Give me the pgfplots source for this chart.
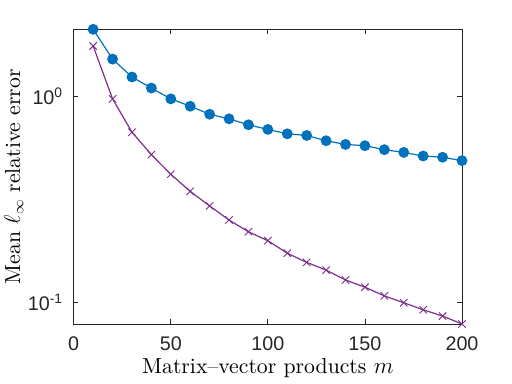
\documentclass[border=0pt]{standalone}
\usepackage{fontspec}
\usepackage{pgfplots}
\pgfplotsset{compat=1.18}
\newfontfamily\tickfont{Liberation Sans}
\newfontfamily\labfont{lmroman10-regular.otf}
\definecolor{mblue}{rgb}{0,0.447,0.741}
\definecolor{mpurple}{rgb}{0.494,0.184,0.556}
\definecolor{axgray}{rgb}{0.15,0.15,0.15}
\begin{document}
\begin{tikzpicture}
  \useasboundingbox (0,0) rectangle (384pt,288pt);
  \begin{axis}[
    at={(55.3pt,45pt)},anchor=south west,
    scale only axis,width=291.2pt,height=221pt,
    ymode=log,
    xmin=0,xmax=200,ymin=0.0789,ymax=2.12,
    xtick={0,50,100,150,200},
    xticklabels={0,50,100,150,200},
    ytick={0.1,1},
    yticklabels={10\textsuperscript{-1},10\textsuperscript{0}},
    yminorticks=false,
    tick align=inside,tick pos=both,
    major tick length=3.5pt,
    axis line style={axgray,line width=0.6pt},
    every tick/.style={axgray,line width=0.6pt},
    tick label style={font=\fontsize{14.8}{16}\tickfont,text=axgray,inner sep=1pt},
    xticklabel style={anchor=center,yshift=-15pt},
    yticklabel style={anchor=east,xshift=-7pt},
    clip=false,
    every axis x label/.style={at={([yshift=-33pt]axis description cs:0.5,0)},anchor=center},
    every axis y label/.style={at={([xshift=-45pt]axis description cs:0,0.5)},rotate=90,anchor=center},
    label style={font=\fontsize{16.3}{18}\labfont,inner sep=0.5pt},
    xlabel={Matrix–vector products $m$},
    ylabel={Mean $\ell_\infty$ relative error},
  ]
  \addplot[mblue,line width=0.9pt,mark=*,mark size=3.6pt,mark options={fill=mblue}] coordinates {
    (10,2.12) (20,1.52) (30,1.245) (40,1.10) (50,0.975) (60,0.898) (70,0.821)
    (80,0.780) (90,0.730) (100,0.693) (110,0.660) (120,0.648) (130,0.611)
    (140,0.586) (150,0.578) (160,0.553) (170,0.536) (180,0.515) (190,0.508) (200,0.489)};
  \addplot[mpurple,line width=0.9pt,mark=x,mark size=3.9pt,mark options={line width=0.7pt}] coordinates {
    (10,1.76) (20,0.975) (30,0.672) (40,0.523) (50,0.42) (60,0.347) (70,0.295)
    (80,0.252) (90,0.221) (100,0.200) (110,0.174) (120,0.157) (130,0.144)
    (140,0.129) (150,0.119) (160,0.108) (170,0.100) (180,0.0925) (190,0.0862) (200,0.0789)};
  \end{axis}
\end{tikzpicture}
\end{document}
